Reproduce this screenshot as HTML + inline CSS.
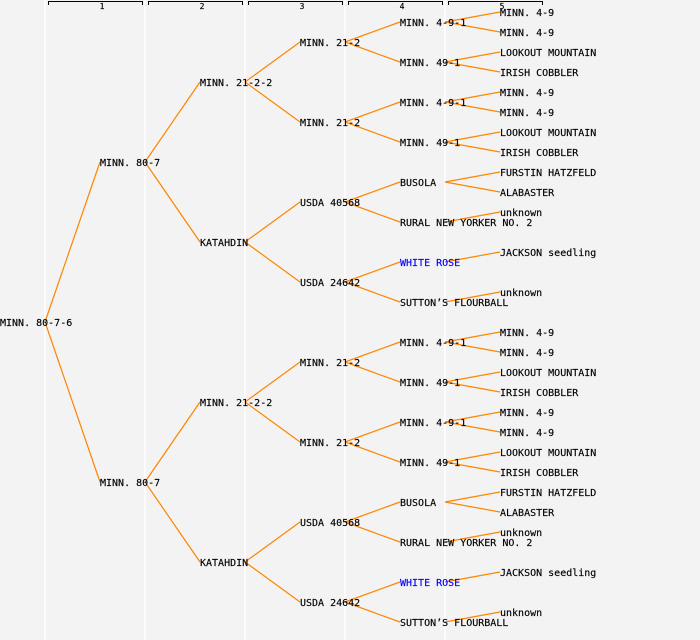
<!DOCTYPE html>
<html><head><meta charset="utf-8"><style>
html,body{margin:0;padding:0;background:#f3f3f3;}
svg{display:block;}
text{font-family:"DejaVu Sans Mono","Liberation Mono",monospace;font-size:10px;fill:#000;stroke:#000;stroke-width:0.15;}
.h{font-size:8px;}
</style></head><body>
<svg width="700" height="640" viewBox="0 0 700 640" xmlns="http://www.w3.org/2000/svg">
<rect width="700" height="640" fill="#f3f3f3"/>
<g stroke="#ffffff" stroke-width="1.5">
<line x1="45" y1="0" x2="45" y2="640"/><line x1="145" y1="0" x2="145" y2="640"/>
<line x1="245" y1="0" x2="245" y2="640"/><line x1="345" y1="0" x2="345" y2="640"/>
<line x1="445" y1="0" x2="445" y2="640"/>
</g>
<g stroke="#000" stroke-width="1" fill="none">
<path d="M48.5 5V1.5H142.5V5"/><path d="M148.5 5V1.5H242.5V5"/><path d="M248.5 5V1.5H342.5V5"/><path d="M348.5 5V1.5H442.5V5"/><path d="M448.5 5V1.5H542.5V5"/>
</g>
<g text-anchor="middle">
<text class="h" x="102" y="9">1</text><text class="h" x="202" y="9">2</text><text class="h" x="302" y="9">3</text><text class="h" x="402" y="9">4</text><text class="h" x="502" y="9">5</text>
</g>
<g stroke="#ff8400" stroke-width="1.2" fill="none">
<path d="M45 322L100 162M45 322L100 482"/>
<path d="M145 162L200 82M145 162L200 242M145 482L200 402M145 482L200 562"/>
<path d="M245 82L300 42M245 82L300 122M245 242L300 202M245 242L300 282M245 402L300 362M245 402L300 442M245 562L300 522M245 562L300 602"/>
<path d="M345 42L400 22M345 42L400 62M345 122L400 102M345 122L400 142M345 202L400 182M345 202L400 222M345 282L400 262M345 282L400 302"/>
<path d="M345 362L400 342M345 362L400 382M345 442L400 422M345 442L400 462M345 522L400 502M345 522L400 542M345 602L400 582M345 602L400 622"/>
<path d="M445 22L500 12M445 22L500 32M445 62L500 52M445 62L500 72M445 102L500 92M445 102L500 112M445 142L500 132M445 142L500 152M445 182L500 172M445 182L500 192M445 222L500 212M445 262L500 252M445 302L500 292"/>
<path d="M445 342L500 332M445 342L500 352M445 382L500 372M445 382L500 392M445 422L500 412M445 422L500 432M445 462L500 452M445 462L500 472M445 502L500 492M445 502L500 512M445 542L500 532M445 582L500 572M445 622L500 612"/>
</g>
<g>
<text x="0" y="326">MINN. 80-7-6</text>
<text x="100" y="166">MINN. 80-7</text><text x="100" y="486">MINN. 80-7</text>
<text x="200" y="86">MINN. 21-2-2</text><text x="200" y="246">KATAHDIN</text>
<text x="200" y="406">MINN. 21-2-2</text><text x="200" y="566">KATAHDIN</text>
<text x="300" y="46">MINN. 21-2</text><text x="300" y="126">MINN. 21-2</text><text x="300" y="206">USDA 40568</text><text x="300" y="286">USDA 24642</text>
<text x="300" y="366">MINN. 21-2</text><text x="300" y="446">MINN. 21-2</text><text x="300" y="526">USDA 40568</text><text x="300" y="606">USDA 24642</text>
<text x="400" y="26">MINN. 4-9-1</text><text x="400" y="66">MINN. 49-1</text><text x="400" y="106">MINN. 4-9-1</text><text x="400" y="146">MINN. 49-1</text>
<text x="400" y="186">BUSOLA</text><text x="400" y="226">RURAL NEW YORKER NO. 2</text><text x="400" y="266" style="fill:#0000ff;stroke:#0000ff">WHITE ROSE</text><text x="400" y="306">SUTTON’S FLOURBALL</text>
<text x="400" y="346">MINN. 4-9-1</text><text x="400" y="386">MINN. 49-1</text><text x="400" y="426">MINN. 4-9-1</text><text x="400" y="466">MINN. 49-1</text>
<text x="400" y="506">BUSOLA</text><text x="400" y="546">RURAL NEW YORKER NO. 2</text><text x="400" y="586" style="fill:#0000ff;stroke:#0000ff">WHITE ROSE</text><text x="400" y="626">SUTTON’S FLOURBALL</text>
<text x="500" y="16">MINN. 4-9</text><text x="500" y="36">MINN. 4-9</text><text x="500" y="56">LOOKOUT MOUNTAIN</text><text x="500" y="76">IRISH COBBLER</text>
<text x="500" y="96">MINN. 4-9</text><text x="500" y="116">MINN. 4-9</text><text x="500" y="136">LOOKOUT MOUNTAIN</text><text x="500" y="156">IRISH COBBLER</text>
<text x="500" y="176">FURSTIN HATZFELD</text><text x="500" y="196">ALABASTER</text><text x="500" y="216">unknown</text><text x="500" y="256">JACKSON seedling</text><text x="500" y="296">unknown</text>
<text x="500" y="336">MINN. 4-9</text><text x="500" y="356">MINN. 4-9</text><text x="500" y="376">LOOKOUT MOUNTAIN</text><text x="500" y="396">IRISH COBBLER</text>
<text x="500" y="416">MINN. 4-9</text><text x="500" y="436">MINN. 4-9</text><text x="500" y="456">LOOKOUT MOUNTAIN</text><text x="500" y="476">IRISH COBBLER</text>
<text x="500" y="496">FURSTIN HATZFELD</text><text x="500" y="516">ALABASTER</text><text x="500" y="536">unknown</text><text x="500" y="576">JACKSON seedling</text><text x="500" y="616">unknown</text>
</g>
</svg>
</body></html>
